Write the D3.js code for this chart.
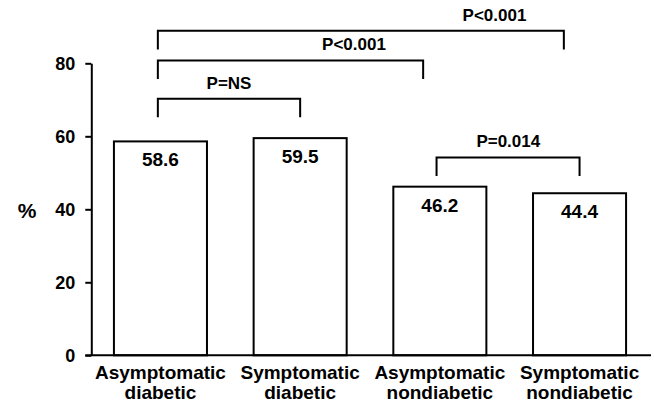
<!DOCTYPE html>
<html>
<head>
<meta charset="utf-8">
<script src="https://cdn.jsdelivr.net/npm/d3@7"></script>
<style>
  body { margin: 0; background: #fff; }
  svg { display: block; font-family: Arial, "Liberation Sans", sans-serif; font-weight: bold; }
</style>
</head>
<body>
<div id="graf"></div>
<script>
// Datos
const grupos = ["Asymptomatic diabetic", "Symptomatic diabetic", "Asymptomatic nondiabetic", "Symptomatic nondiabetic"]
const lineas = [["Asymptomatic", "diabetic"], ["Symptomatic", "diabetic"], ["Asymptomatic", "nondiabetic"], ["Symptomatic", "nondiabetic"]]
const valores = [58.6, 59.5, 46.2, 44.4]
const ticksY = [0, 20, 40, 60, 80]

// Comparaciones: grupo inicial, grupo final, etiqueta, nivel (%)
const compDesde = [0, 0, 0, 2]
const compHasta = [1, 2, 3, 3]
const compTexto = ["P=NS", "P<0.001", "P<0.001", "P=0.014"]
const compNivel = [70.3, 80.8, 88.9, 54.2]

// Dimensiones
const anchoTotal = 654
const altoTotal = 403
const ejeX = 91.3
const ejeY0 = 355.3
const ejeY80 = 63.3

const svg = d3.select("#graf")
  .append("svg")
  .attr("width", anchoTotal)
  .attr("height", altoTotal)

// Escaladores
const x = d3.scaleBand()
  .domain(grupos)
  .range([ejeX, 648.7])
  .paddingInner(0.334)
  .paddingOuter(0.162)
const y = d3.scaleLinear().domain([0, 80]).range([ejeY0, ejeY80])

const centro = (i) => x(grupos[i]) + x.bandwidth() / 2

// Barras
svg.append("g")
  .selectAll("rect")
  .data(valores)
  .enter()
  .append("rect")
  .attr("x", (d, i) => x(grupos[i]))
  .attr("y", (d) => y(d))
  .attr("width", x.bandwidth())
  .attr("height", (d) => y(0) - y(d))
  .attr("fill", "white")
  .attr("stroke", "black")
  .attr("stroke-width", 2)

// Valores dentro de las barras
svg.append("g")
  .selectAll("text")
  .data(valores)
  .enter()
  .append("text")
  .attr("x", (d, i) => centro(i))
  .attr("y", (d) => y(d) + 25)
  .attr("text-anchor", "middle")
  .style("font-size", "19px")
  .text((d) => d.toFixed(1))

// Eje Y
const yAxis = d3.axisLeft(y).tickValues(ticksY).tickSize(6).tickSizeOuter(0).tickPadding(10)
const yAxisGroup = svg.append("g")
  .attr("transform", `translate(${ejeX}, 0)`)
  .call(yAxis)
yAxisGroup.select(".domain").attr("stroke-width", 2)
yAxisGroup.selectAll(".tick line").attr("stroke-width", 2)
yAxisGroup.selectAll(".tick text")
  .style("font-size", "18px")
  .style("font-family", "Arial, 'Liberation Sans', sans-serif")
  .style("font-weight", "bold")
  .attr("fill", "black")

// Linea base
svg.append("line")
  .attr("x1", ejeX - 6)
  .attr("x2", 651)
  .attr("y1", y(0))
  .attr("y2", y(0))
  .attr("stroke", "black")
  .attr("stroke-width", 2)

// Titulo eje Y
svg.append("text")
  .attr("x", 27)
  .attr("y", 218)
  .attr("text-anchor", "middle")
  .style("font-size", "21px")
  .text("%")

// Etiquetas de categorias
const etiquetas = svg.append("g")
  .selectAll("text")
  .data(lineas)
  .enter()
  .append("text")
  .attr("text-anchor", "middle")
  .style("font-size", "19px")
etiquetas.append("tspan")
  .attr("x", (d, i) => centro(i))
  .attr("y", 379.3)
  .text((d) => d[0])
etiquetas.append("tspan")
  .attr("x", (d, i) => centro(i))
  .attr("y", 399.3)
  .text((d) => d[1])

// Corchetes de comparacion
const ajusteDesde = [-2.6, -2.6, -2.6, -3.3]
const ajusteHasta = [0, -16.7, -15.7, 0]
const pata = 18.6

const corchetes = svg.append("g")
  .selectAll("g")
  .data(compTexto)
  .enter()
  .append("g")

corchetes.append("path")
  .attr("d", (d, i) => {
    const x1 = centro(compDesde[i]) + ajusteDesde[i]
    const x2 = centro(compHasta[i]) + ajusteHasta[i]
    const yy = y(compNivel[i])
    return `M${x1},${yy + pata}V${yy}H${x2}V${yy + pata}`
  })
  .attr("fill", "none")
  .attr("stroke", "black")
  .attr("stroke-width", 2)

const textoCentro = [229, 354, 494.5, 508.3]
corchetes.append("text")
  .attr("x", (d, i) => textoCentro[i])
  .attr("y", (d, i) => y(compNivel[i]) - 10)
  .attr("text-anchor", "middle")
  .style("font-size", "17px")
  .text((d) => d)
</script>
</body>
</html>
